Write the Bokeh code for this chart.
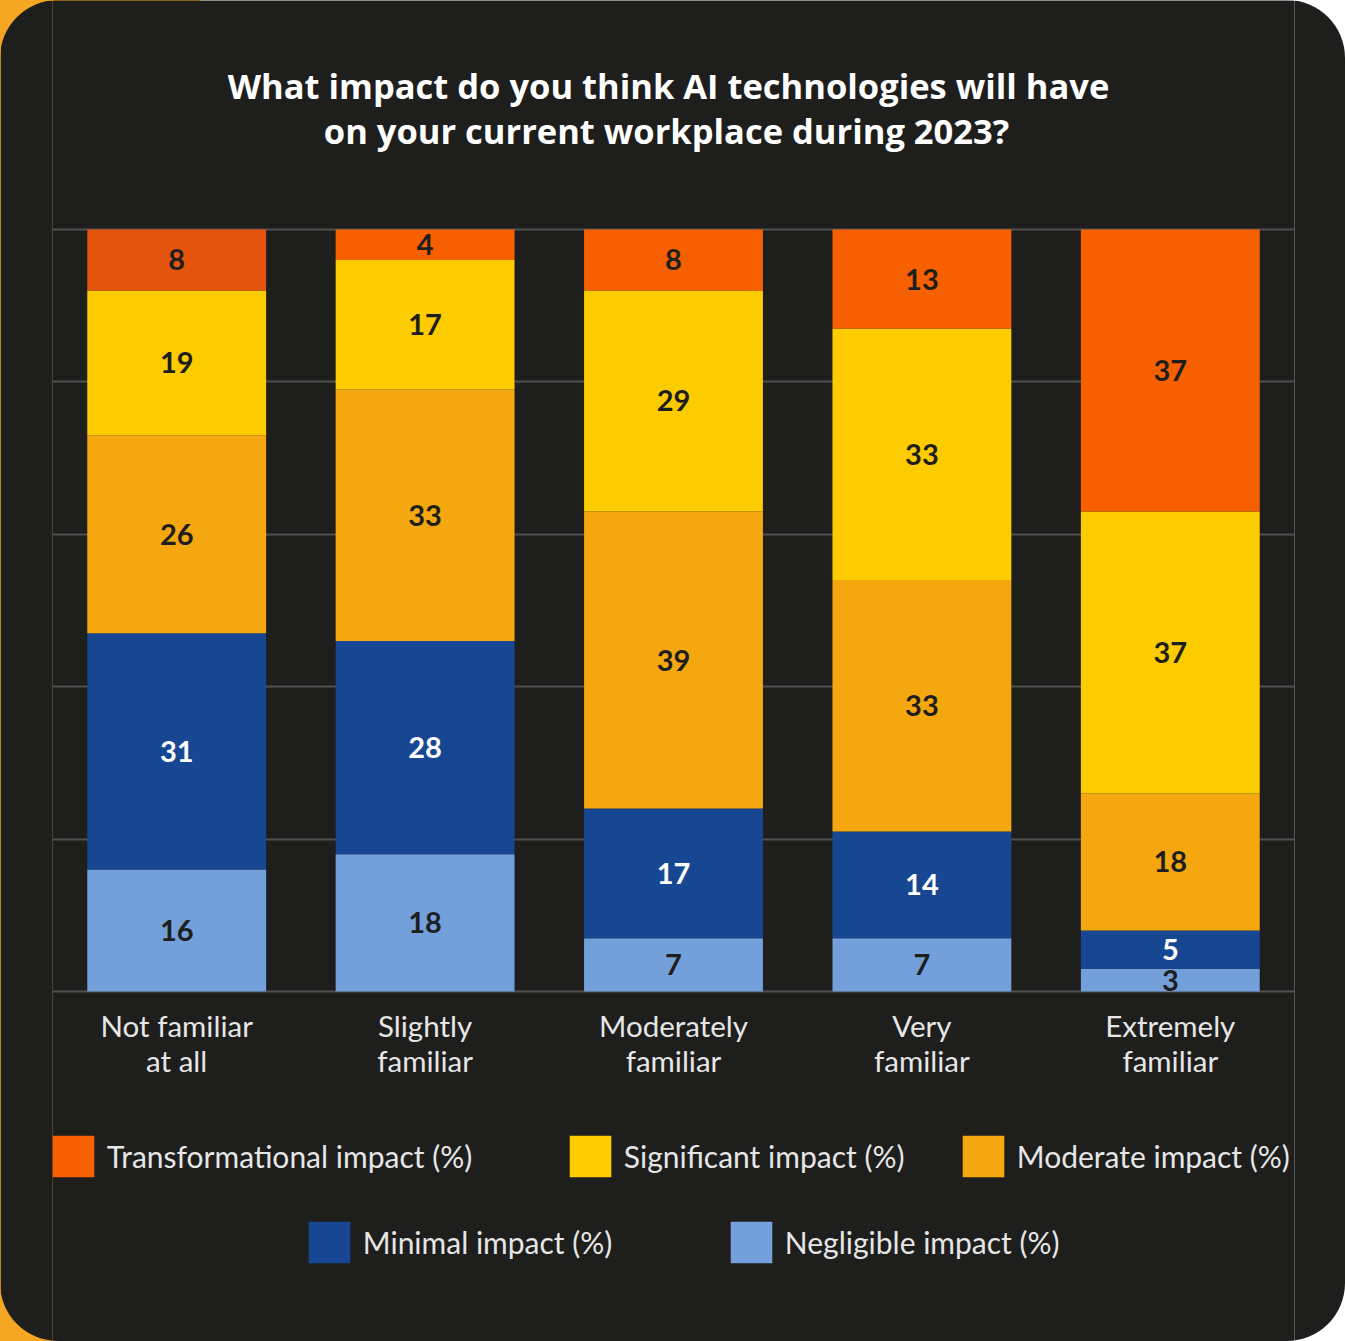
from bokeh.plotting import figure
from bokeh.models import (ColumnDataSource, FactorRange, Range1d, FixedTicker,
                          Legend, LegendItem, Label)
from bokeh.layouts import column
from bokeh.core.properties import value
from bokeh.embed import file_html
from bokeh.resources import INLINE
import numpy as np

# ---------------- data ----------------
categories = ["Not familiar\nat all", "Slightly\nfamiliar", "Moderately\nfamiliar",
              "Very\nfamiliar", "Extremely\nfamiliar"]
negligible = [16, 18, 7, 7, 3]
minimal = [31, 28, 17, 14, 5]
moderate = [26, 33, 39, 33, 18]
significant = [19, 17, 29, 33, 37]
transformational = [8, 4, 8, 13, 37]

series_names = ["Negligible impact (%)", "Minimal impact (%)", "Moderate impact (%)",
                "Significant impact (%)", "Transformational impact (%)"]
series_values = [negligible, minimal, moderate, significant, transformational]

title_lines = ["What impact do you think AI technologies will have",
               "on your current workplace during 2023?"]

# ---------------- styles / layout (pixels) ----------------
BG = "#1e1e1d"
series_colors = ["#739fda", "#174793", "#f5a70f", "#fccc00", "#f76000"]
transformational_bar_colors = ["#e5540c", "#f76000", "#f76000", "#f76000", "#f76000"]
label_colors = ["#1e1e1e", "#ffffff", "#1e1e1e", "#1e1e1e", "#1e1e1e"]
FONT = "Lato"
TITLE_FONT = "Open Sans"

W, H = 1345, 1341
LEFT, RIGHT = 52, 51          # frame side borders
TOP_PX, ZERO_PX = 229, 991    # pixel rows of the 100 and 0 grid lines
PPU = (ZERO_PX - TOP_PX) / 100.0
y_start = -(H - ZERO_PX) / PPU
y_end = 100 + TOP_PX / PPU
CAT_LABEL_GAP = 51.5          # px from the 0 line to the centre of category labels

p = figure(width=W, height=H, x_range=FactorRange(factors=categories, range_padding=0),
           y_range=Range1d(y_start, y_end), output_backend="svg", toolbar_location=None,
           min_border_left=LEFT, min_border_right=RIGHT, min_border_top=0,
           min_border_bottom=0, title=None,
           background_fill_color=BG, border_fill_color=BG)
p.outline_line_color = None
p.styles = {"border-radius": "58px", "overflow": "hidden"}

p.xaxis.visible = False
p.yaxis.visible = False
p.xgrid.visible = False
p.ygrid.ticker = FixedTicker(ticks=[0, 20, 40, 60, 80, 100])
p.ygrid.grid_line_color = "#505050"
p.ygrid.grid_line_width = 2

# title (two centred lines)
for txt, cy, cx in zip(title_lines, [85, 130], [668, 666]):
    p.add_layout(Label(x=cx - LEFT, y=H - cy, x_units="screen", y_units="screen",
                       text=txt, text_align="center", text_baseline="middle",
                       text_font=TITLE_FONT, text_font_style="bold",
                       text_font_size="34.5px", text_color="#ffffff"))

renderers = []
bottom = np.zeros(len(categories))
for i, (name, vals) in enumerate(zip(series_names, series_values)):
    vals = np.array(vals, dtype=float)
    top = bottom + vals
    cols = transformational_bar_colors if i == 4 else [series_colors[i]] * len(categories)
    src = ColumnDataSource(dict(x=categories, bottom=bottom, top=top,
                                mid=(bottom + top) / 2, label=[str(int(v)) for v in vals],
                                color=cols))
    r = p.vbar(x="x", bottom="bottom", top="top", width=0.72, source=src,
               fill_color="color", line_color=None)
    renderers.append(r)
    p.text(x="x", y="mid", text="label", source=src, text_align="center",
           text_baseline="middle", text_font=value(FONT), text_font_style="bold",
           text_font_size="29px", text_color=label_colors[i])
    bottom = top

# category labels under the bars
cat_src = ColumnDataSource(dict(x=categories, y=[-CAT_LABEL_GAP / PPU] * len(categories),
                                text=categories))
p.text(x="x", y="y", text="text", source=cat_src, text_align="center",
       text_baseline="middle", text_font=value(FONT), text_font_size="29.5px",
       text_color="#e6e6e6", text_line_height=1.0)

# legend: one Legend per item, positioned in screen px (bottom-left of item box)
GLYPH = 52            # drawn square is 80% of this -> ~42 px
INSET = GLYPH * 0.1
legend_order = [4, 3, 2, 1, 0]
square_left = [52, 569, 962, 308, 730]
square_bottom = [1177, 1177, 1177, 1263, 1263]
for i, sl, sb in zip(legend_order, square_left, square_bottom):
    lg = Legend(items=[LegendItem(label=series_names[i], renderers=[renderers[i]], index=1)],
                location=(sl - LEFT - INSET, H - sb - INSET), orientation="horizontal",
                glyph_width=GLYPH, glyph_height=GLYPH, label_standoff=8, spacing=0,
                padding=0, margin=0, border_line_alpha=0, background_fill_alpha=0,
                label_text_font=FONT, label_text_font_size="30px",
                label_text_color="#e6e6e6", label_height=42)
    p.add_layout(lg, "center")

page = column(p, styles={"background": "linear-gradient(to right, #f5a623 0px, #f5a623 200px, #ffffff 200px)"})

open("out.html", "w").write(file_html(page, INLINE))
